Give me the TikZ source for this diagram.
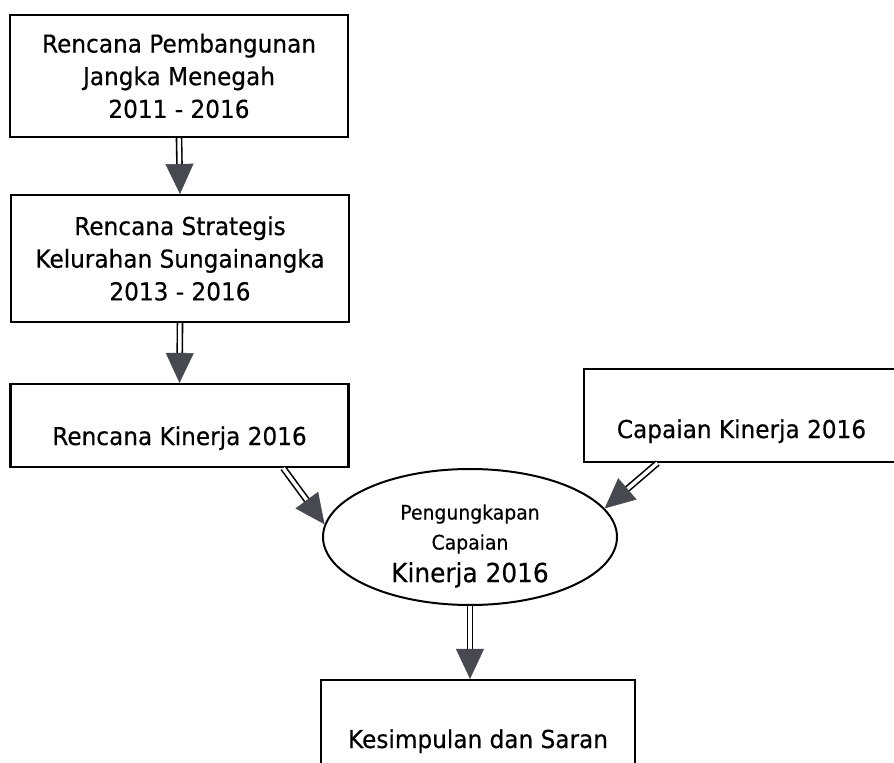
\documentclass[tikz,border=0pt]{standalone}
\usepackage{fontspec}
\setmainfont{DejaVu Sans}[FakeStretch=0.94, FakeBold=0.4]
\usetikzlibrary{calc, shapes.geometric, arrows.meta}

\definecolor{tipgray}{RGB}{72,72,80}

\tikzset{
	frame/.style = {draw, line width=1.6pt, rectangle, inner sep=0pt, align=center, font=\fontsize{18.5}{24.5}\selectfont},
	oval/.style = {draw, line width=1.5pt, ellipse, inner sep=0pt},
	shaft/.style = {double, double distance=2.6pt, line width=1.2pt, shorten >=20pt},
	headtip/.style = {-{Triangle[length=22.5pt, width=21pt]}, tipgray, line width=0.4pt}
}

%double arrow with a grey head
\newcommand{\flowarrow}[2]{%
	\draw [shaft] (#1) -- (#2);
	\draw [headtip] ($ (#2)!22.5pt!(#1) $) -- (#2);
}

\begin{document}
\begin{tikzpicture}[x=0.75pt, y=-0.75pt]
		%page
		\clip (0,0) rectangle (894,763);
		\useasboundingbox (0,0) rectangle (894,763);
		
		%variables
		\def\boxw{253.5pt};
		
		%left column
		\node [frame, minimum width=\boxw, minimum height=91.5pt] (rpjm) at (179,76) {Rencana Pembangunan\\Jangka Menegah\\2011 - 2016};
		\node [frame, minimum width=\boxw, minimum height=95.25pt] (renstra) at (180,258.5) {Rencana Strategis\\Kelurahan Sungainangka\\2013 - 2016};
		\node [frame, minimum width=\boxw, minimum height=62.25pt, text height=29.3pt, text depth=0pt] (plan) at (179.5,425.5) {Rencana Kinerja 2016};
		
		%right box
		\node [frame, minimum width=236.25pt, minimum height=69.75pt, text height=33.8pt, text depth=0pt] (real) at (741.5,415.5) {Capaian Kinerja 2016};
		
		%disclosure
		\node [oval, minimum width=220.5pt, minimum height=102pt] (ungkap) at (470,537) {};
		\node [align=center, font=\fontsize{15}{22.5}\selectfont] (ungkaptxt) at (470,546) {Pengungkapan\\Capaian\\[2pt]{\fontsize{19.8}{25}\selectfont Kinerja 2016}};
		
		%conclusion
		\node [frame, minimum width=235.5pt, minimum height=90pt, text height=12pt, text depth=0pt] (hasil) at (478,740) {Kesimpulan dan Saran};
		
		%arrow ends
		\coordinate (a3s) at ($ (plan.south)!0.61!(plan.south east) $);
		\coordinate (a4s) at ($ (real.south)!0.53!(real.south west) $);
		\coordinate (a5e) at (ungkap.south |- hasil.north);
		
		%arrows
		\flowarrow{rpjm.south}{renstra.north}
		\flowarrow{renstra.south}{plan.north}
		\flowarrow{a3s}{ungkap.175}
		\flowarrow{a4s}{ungkap.12}
		\flowarrow{ungkap.south}{a5e}
	\end{tikzpicture}
\end{document}
